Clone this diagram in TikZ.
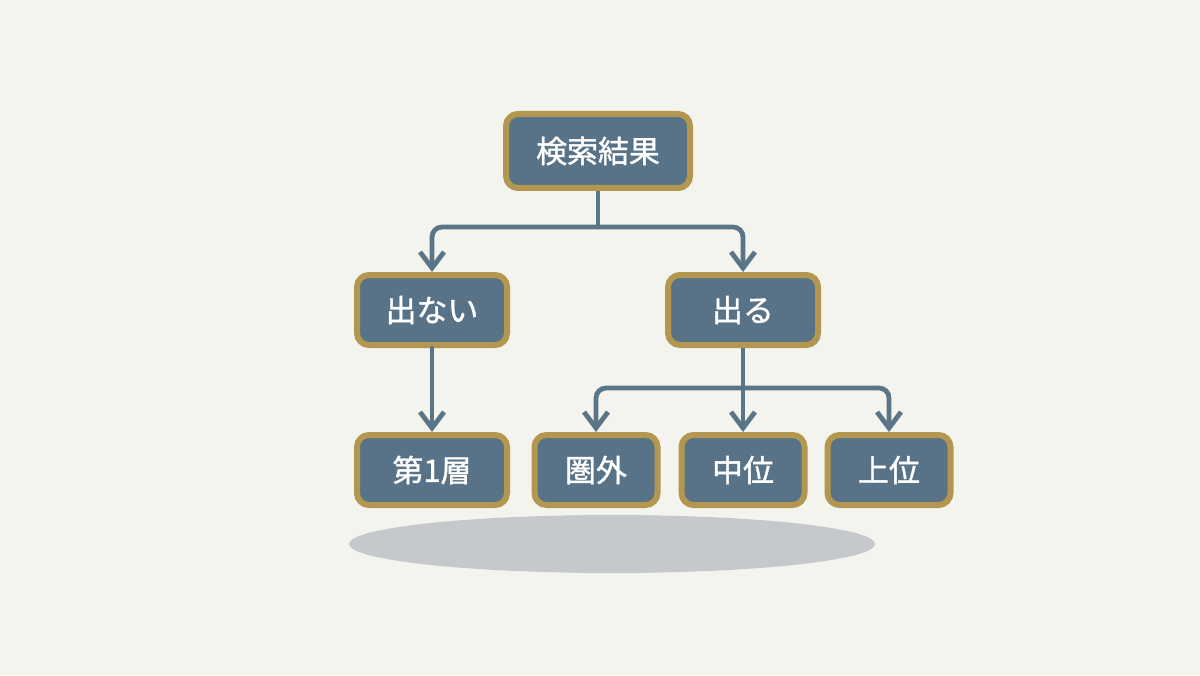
\documentclass[tikz,border=0pt]{standalone}
\usepackage{fontspec}
\newfontfamily\jp{Noto Sans CJK JP}[FakeBold=1.2]
\usetikzlibrary{arrows.meta}
\definecolor{haikei}{HTML}{F4F4EE}
\definecolor{waku}{HTML}{B3964F}
\definecolor{nakami}{HTML}{587387}
\definecolor{sen}{HTML}{5A7588}
\definecolor{kage}{HTML}{C5C9CC}

\begin{document}
\begin{tikzpicture}[
    box/.style={rectangle, rounded corners=0.3cm, draw=waku, line width=0.15cm, fill=nakami,
      text=white, font=\jp\fontsize{22}{22}\selectfont, minimum width=3.75cm, minimum height=1.75cm},
    ya/.style={draw=sen, line width=0.12cm, rounded corners=0.25cm, line cap=round,
      -{Straight Barb[length=0.4cm, width=0.6cm]}}
  ]
    \useasboundingbox (0, 0) rectangle (30, 16.875);
    \fill[haikei] (0, 0) rectangle (30, 16.875);
    \fill[kage] (15.3, 3.275) ellipse [x radius=6.575, y radius=0.725];

    \node[box, minimum width=4.6cm, minimum height=1.85cm] (kensaku) at (14.95, 13.1) {検索結果};
    \node[box] (denai) at (10.8, 9.125) {出ない};
    \node[box] (deru) at (18.575, 9.125) {出る};
    \node[box] (dai1) at (10.8, 5.125) {第1層};
    \node[box, minimum width=3.075cm] (kengai) at (14.9, 5.125) {圏外};
    \node[box, minimum width=3.075cm] (chui) at (18.575, 5.125) {中位};
    \node[box, minimum width=3.075cm] (joui) at (22.225, 5.125) {上位};

    % 分岐点
    \coordinate (j1) at (14.95, 11.2);
    \coordinate (j2) at (18.575, 7.175);

    % 矢印を引く
    \draw[draw=sen, line width=0.12cm] (kensaku) -- (j1);
    \draw[ya] (j1) -| (denai);
    \draw[ya] (j1) -| (deru);
    \draw[ya] (denai) -- (dai1);
    \draw[draw=sen, line width=0.12cm] (deru) -- (j2);
    \draw[ya] (j2) -| (kengai);
    \draw[ya] (j2) -- (chui);
    \draw[ya] (j2) -| (joui);
  \end{tikzpicture}
\end{document}
